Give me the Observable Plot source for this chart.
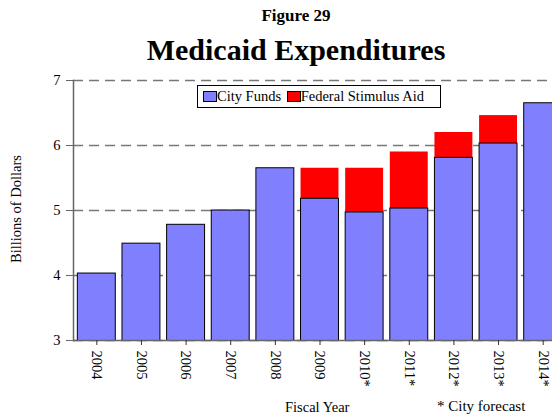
<!DOCTYPE html>
<html><head><meta charset="utf-8">
<script src="https://cdn.jsdelivr.net/npm/d3@7"></script>
<script src="https://cdn.jsdelivr.net/npm/@observablehq/plot@0.6"></script>
<style>
body{margin:0;background:#fff;font-family:"Liberation Serif","Times New Roman",serif;}
#wrap{position:relative;width:552px;height:416px;overflow:hidden;background:#fff;font-family:"Liberation Serif",serif;}
.abs{position:absolute;white-space:nowrap;font-family:"Liberation Serif",serif;}
#chart{position:absolute;left:0;top:72px;}
.legend{position:absolute;left:197px;top:85px;width:242px;height:21px;border:1px solid #000;background:#fff;font-size:14.5px;line-height:21px;font-family:"Liberation Serif",serif;}
.sw{display:inline-block;width:12px;height:9px;border:1px solid #000;vertical-align:-1px;}
</style></head>
<body>
<div id="wrap">
  <div class="abs" style="left:0;width:592px;top:6px;text-align:center;font-weight:bold;font-size:17px;">Figure 29</div>
  <div class="abs" style="left:0;width:592px;top:33px;text-align:center;font-weight:bold;font-size:30px;">Medicaid Expenditures</div>
  <div id="chart"></div>
  <div class="legend"><span style="margin-left:5px" class="sw" id="sw1"></span>City Funds <span class="sw" id="sw2" style="margin-left:2px"></span>Federal Stimulus Aid</div>
  <div class="abs" style="left:16px;top:209px;font-size:14.5px;transform:translate(-50%,-50%) rotate(-90deg);">Billions of Dollars</div>
  <div class="abs" style="left:285px;top:399px;font-size:14.5px;">Fiscal Year</div>
  <div class="abs" style="left:437px;top:398px;font-size:15px;">* City forecast</div>
</div>
<script>
const years = ["2004","2005","2006","2007","2008","2009","2010*","2011*","2012*","2013*","2014*"];
const cityFunds = [4.03, 4.49, 4.78, 5.00, 5.65, 5.18, 4.97, 5.03, 5.81, 6.03, 6.65];
const stimulusAid = [0, 0, 0, 0, 0, 0.47, 0.68, 0.87, 0.39, 0.43, 0];
const yTicks = [3, 4, 5, 6, 7];
const seriesNames = ["City Funds", "Federal Stimulus Aid"];
const seriesColors = ["#8080ff", "#ff0000"];

document.getElementById("sw1").style.background = seriesColors[0];
document.getElementById("sw2").style.background = seriesColors[1];

const rows = years.map((y, i) => ({year: y, city: cityFunds[i], stim: stimulusAid[i]}));

const chart = Plot.plot({
  width: 552,
  height: 344,
  marginTop: 8,
  marginBottom: 76,
  marginLeft: 73,
  marginRight: 0,
  style: {fontFamily: "'Liberation Serif', serif", fontSize: "14.5px", background: "white", color: "black"},
  x: {domain: years, range: [74, 565], paddingInner: 0.15, paddingOuter: 0.075, round: false, label: null},
  y: {domain: [3, 7], label: null},
  marks: [
    Plot.gridY(yTicks, {stroke: "#777", strokeOpacity: 1, strokeDasharray: "10,6", strokeWidth: 1.5}),
    Plot.barY(rows, {x: "year", y1: "city", y2: d => d.city + d.stim, fill: seriesColors[1], clip: true}),
    Plot.barY(rows, {x: "year", y1: 0, y2: "city", fill: seriesColors[0], stroke: "black", strokeWidth: 1, clip: true}),
    Plot.ruleY([3], {stroke: "#666", strokeWidth: 1.5}),
    Plot.frame({anchor: "left", stroke: "#666", strokeWidth: 1.5}),
    Plot.axisY(yTicks, {tickSize: 7, tickPadding: 6, stroke: "#666", label: null, tickFormat: d3.format("d"), fontSize: 14.5, fontFamily: "'Liberation Serif', serif"}),
    Plot.axisX({tickRotate: 90, tickSize: 5, tickPadding: 5, stroke: "#333", label: null, fontSize: 14.5, fontFamily: "'Liberation Serif', serif"})
  ]
});
document.getElementById("chart").appendChild(chart);
</script>
</body></html>
